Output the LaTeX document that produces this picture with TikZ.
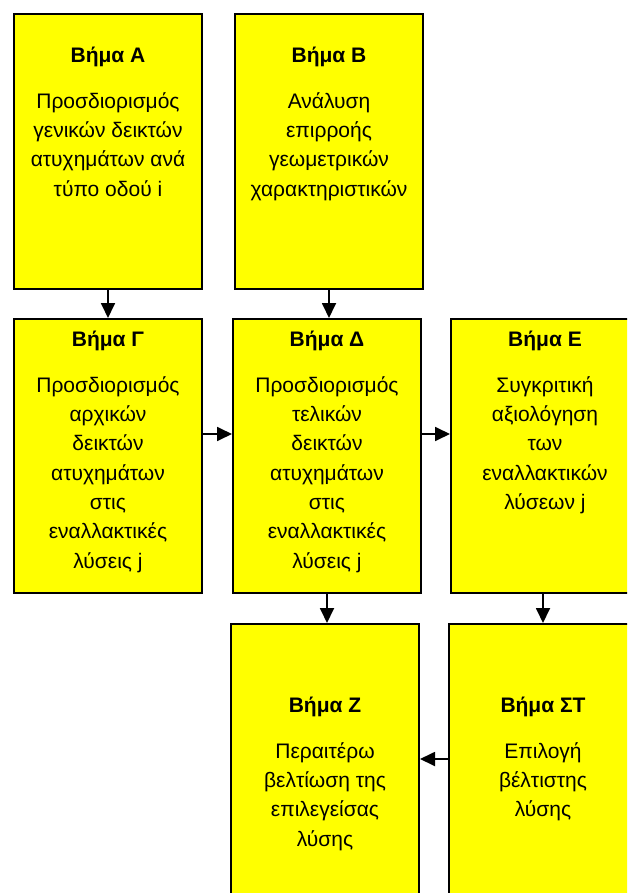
\documentclass[tikz,border=0pt]{standalone}
\usepackage{fontspec}
\setmainfont{Liberation Sans}
\usetikzlibrary{arrows.meta,calc}

\definecolor{boxyellow}{RGB}{255,255,0}
\newcommand{\firstline}{\rule{0pt}{16pt}}

\begin{document}
\begin{tikzpicture}[x=1pt,y=-1pt,
  stepbox/.style={draw=black, line width=2pt, fill=boxyellow, anchor=north west,
    inner sep=0pt, minimum width=188pt, minimum height=275pt},
  steptext/.style={anchor=north, inner sep=0pt, align=center,
    font=\fontsize{21}{29.3}\selectfont},
  flow/.style={draw=black, line width=1.8pt,
    -{Triangle[length=15pt,width=14pt]}}]

\useasboundingbox (0,0) rectangle (627,893);
\clip (0,0) rectangle (627,893);

% boxes of the procedure
\node[stepbox] (A) at (13,13) {};
\node[stepbox] (B) at (234,13) {};
\node[stepbox, minimum height=274pt] (G) at (13,318) {};
\node[stepbox, minimum height=274pt] (D) at (232,318) {};
\node[stepbox, minimum height=274pt] (E) at (450,318) {};
\node[stepbox] (Z) at (230,623) {};
\node[stepbox] (ST) at (448,623) {};

% texts of the steps
\node[steptext] (tA) at ($(A.north)+(0,33)$) {\firstline\textbf{Βήμα Α}\\[16.7pt]
  Προσδιορισμός\\ γενικών δεικτών\\ ατυχημάτων ανά\\ τύπο οδού i};
\node[steptext] (tB) at ($(B.north)+(0,33)$) {\firstline\textbf{Βήμα Β}\\[16.7pt]
  Ανάλυση\\ επιρροής\\ γεωμετρικών\\ χαρακτηριστικών};
\node[steptext] (tG) at ($(G.north)+(0,12)$) {\firstline\textbf{Βήμα Γ}\\[16.7pt]
  Προσδιορισμός\\ αρχικών\\ δεικτών\\ ατυχημάτων\\ στις\\ εναλλακτικές\\ λύσεις j};
\node[steptext] (tD) at ($(D.north)+(0,12)$) {\firstline\textbf{Βήμα Δ}\\[16.7pt]
  Προσδιορισμός\\ τελικών\\ δεικτών\\ ατυχημάτων\\ στις\\ εναλλακτικές\\ λύσεις j};
\node[steptext] (tE) at ($(E.north)+(0,12)$) {\firstline\textbf{Βήμα Ε}\\[16.7pt]
  Συγκριτική\\ αξιολόγηση\\ των\\ εναλλακτικών\\ λύσεων j};
\node[steptext] (tZ) at ($(Z.north)+(0,73)$) {\firstline\textbf{Βήμα Ζ}\\[16.7pt]
  Περαιτέρω\\ βελτίωση της\\ επιλεγείσας\\ λύσης};
\node[steptext] (tST) at ($(ST.north)+(0,73)$) {\firstline\textbf{Βήμα ΣΤ}\\[16.7pt]
  Επιλογή\\ βέλτιστης\\ λύσης};

% connectors
\draw[flow] (A.south) -- (A.south |- G.north);
\draw[flow] (B.south) -- (B.south |- D.north);
\coordinate (gd) at ($(G.east)+(0,-22)$);
\draw[flow] (gd) -- (gd -| D.west);
\coordinate (de) at ($(D.east)+(0,-22)$);
\draw[flow] (de) -- (de -| E.west);
\draw[flow] (D.south) -- (D.south |- Z.north);
\coordinate (es) at ($(E.south)+(-2,0)$);
\draw[flow] (es) -- (es |- ST.north);
\coordinate (sz) at ($(ST.west)+(0,-2.5)$);
\draw[flow] (sz) -- (sz -| Z.east);
\end{tikzpicture}
\end{document}
